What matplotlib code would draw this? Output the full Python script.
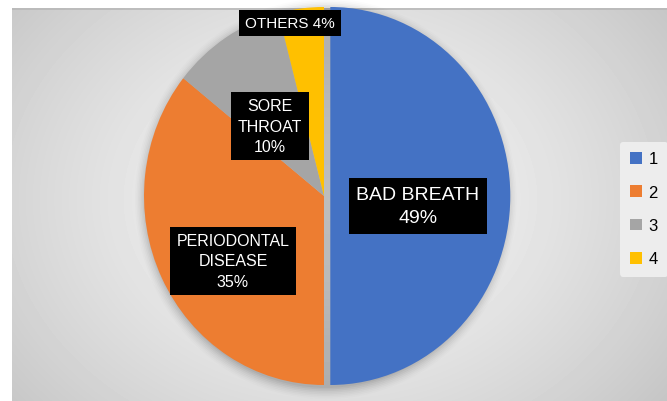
import numpy as np
import matplotlib
matplotlib.use("Agg")
import matplotlib.pyplot as plt
from matplotlib.patches import Ellipse

# Share of reported conditions
labels = ["BAD BREATH", "PERIODONTAL\nDISEASE", "SORE\nTHROAT", "OTHERS"]
values = [49, 35, 10, 4]
legend_labels = ["1", "2", "3", "4"]
colors = ["#4472C4", "#ED7D31", "#A5A5A5", "#FFC000"]

W, H = 667, 402
fig = plt.figure(figsize=(W / 100, H / 100), dpi=100)
fig.patch.set_facecolor("white")

# Chart area with a soft radial gradient
left_px, top_px = 12, 9
bg = fig.add_axes([left_px / W, 0, (W - left_px) / W, (H - top_px) / H])
bw, bh = W - left_px, H - top_px
yy, xx = np.mgrid[0:bh, 0:bw]
cx, cy = 330 - left_px, 200 - top_px
d = np.sqrt(((xx - cx) / 420) ** 2 + ((yy - cy) / 330) ** 2)
d = np.clip(d, 0, 1)
shade = 0.965 - 0.19 * d ** 1.4
bg.imshow(shade, cmap="gray", vmin=0, vmax=1, aspect="auto",
          extent=[0, bw, bh, 0], interpolation="bilinear")
bg.plot([0, bw], [0.5, 0.5], color="#b8b8b8", lw=1.2)
bg.set_xlim(0, bw)
bg.set_ylim(bh, 0)
bg.axis("off")

# Pie axes (slightly taller than wide)
pcx, pcy, RX, RY = 324, 197, 180, 189
pad = 1.15
ax = fig.add_axes([(pcx - RX * pad) / W, (H - pcy - RY * pad) / H,
                   2 * RX * pad / W, 2 * RY * pad / H])
ax.set_facecolor("none")

# faint shadow under the pie
for k, a in zip(np.linspace(1.06, 1.0, 8), np.linspace(0.01, 0.05, 8)):
    ax.add_patch(Ellipse((0.01, -0.015), 2 * k, 2 * k, color="black",
                         alpha=a, lw=0, zorder=0))

wedges, _ = ax.pie(values, colors=colors, startangle=90, counterclock=False,
                   explode=[0.035, 0, 0, 0], radius=1.0,
                   wedgeprops=dict(linewidth=0))
for w in wedges:
    w.set_zorder(2)

ax.set_xlim(-pad, pad)
ax.set_ylim(-pad, pad)
ax.set_aspect("auto")
ax.axis("off")

# Data labels on black boxes
label_pos = [(418, 207), (233, 262), (270, 127), (290, 24)]
label_size = [14, 11.5, 11.5, 11]
for lab, v, (px, py), fs in zip(labels, values, label_pos, label_size):
    if lab == "OTHERS":
        txt = f"{lab} {v}%"
    else:
        txt = f"{lab}\n{v}%"
    fig.text(px / W, 1 - py / H, txt, ha="center", va="center", color="white",
             fontsize=fs, family="Liberation Sans", linespacing=1.45,
             bbox=dict(boxstyle="square,pad=0.4", facecolor="black",
                       edgecolor="none"), zorder=10)

leg = fig.legend(wedges, legend_labels, loc="center",
                 bbox_to_anchor=(644 / W, 1 - 210 / H),
                 frameon=True, handlelength=0.7, handleheight=0.7,
                 handletextpad=0.4, labelspacing=1.1, borderpad=0.6,
                 prop={"family": "Liberation Sans", "size": 12})
leg.get_frame().set_facecolor("#ededed")
leg.get_frame().set_edgecolor("none")
leg.get_frame().set_alpha(1)

fig.savefig("out.png", dpi=100, facecolor=fig.get_facecolor())
